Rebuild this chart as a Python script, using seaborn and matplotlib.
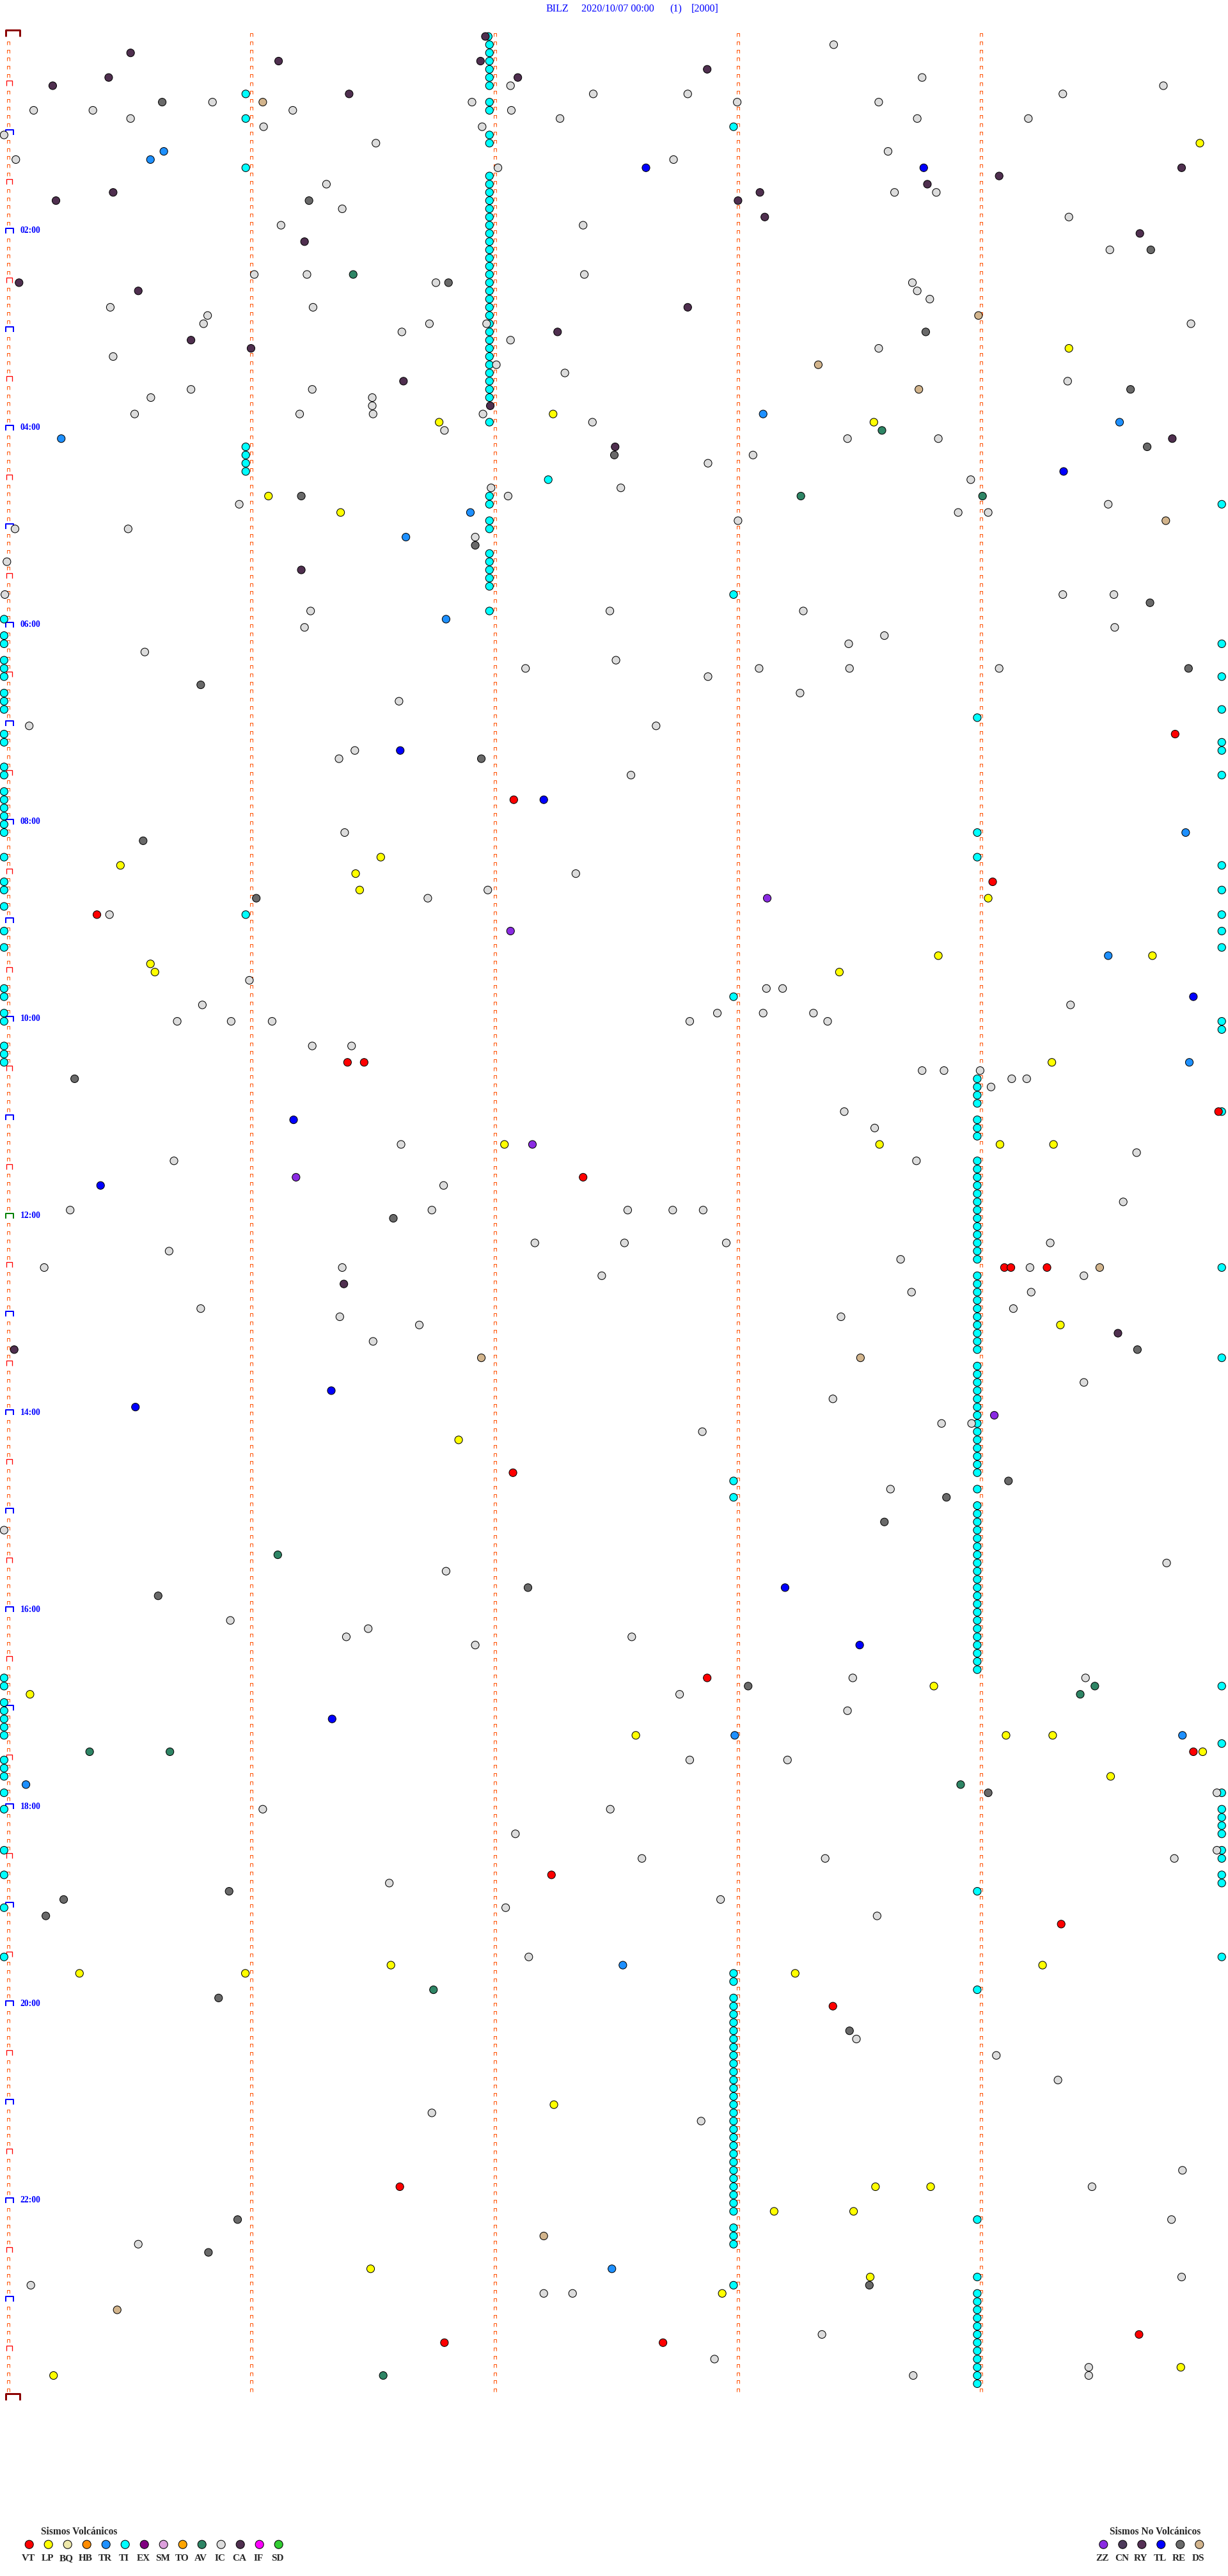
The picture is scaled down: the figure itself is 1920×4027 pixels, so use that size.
import matplotlib
matplotlib.use("Agg")
import matplotlib.pyplot as plt
from matplotlib.path import Path
import pandas as pd
import seaborn as sns

# one row = 5 minutes, 288 rows for the day; events are (row, seconds into row)
ti_row0 = [(0, 118.4), (54, 133.2)]
ti_col2_rows = [1, 2, 3, 4, 5, 6, 8, 9, 12, 13, 17, 18, 19, 20, 21, 22, 23, 24, 25, 26,
                27, 28, 29, 30, 31, 32, 33, 34, 35, 36, 37, 38, 39, 40, 41, 42, 43, 44,
                47, 56, 57, 59, 60, 63, 64, 65, 66, 67, 70]
ti_col1_rows = [7, 10, 16, 50, 51, 52, 53, 107]
ti_left_rows = [71, 73, 74, 76, 77, 78, 80, 81, 82, 85, 86, 89, 90, 92, 93, 94, 95, 96, 97,
                100, 103, 104, 106, 109, 111, 116, 117, 119, 120, 123, 124, 125, 200, 201,
                203, 204, 205, 206, 207, 210, 211, 212, 214, 216, 221, 224, 228, 234]
ti_right_rows = [57, 74, 78, 82, 86, 87, 90, 101, 104, 107, 109, 111, 120, 121, 131, 150,
                 161, 201, 208, 214, 216, 217, 218, 219, 221, 222, 224, 225, 234]
ti_col3_rows = [11, 68, 117, 176, 178, 236, 237, 239, 240, 241, 242, 243, 244, 245, 246,
                247, 248, 249, 250, 251, 252, 253, 254, 255, 256, 257, 258, 259, 260, 261,
                262, 263, 264, 265, 267, 268, 269, 274]
ti_col4_rows = [83, 97, 100, 127, 128, 129, 130, 132, 133, 134, 137, 138, 139, 140, 141,
                142, 143, 144, 145, 146, 147, 148, 149, 151, 152, 153, 154, 155, 156, 157,
                158, 159, 160, 162, 163, 164, 165, 166, 167, 168, 169, 170, 171, 172, 173,
                174, 175, 177, 179, 180, 181, 182, 183, 184, 185, 186, 187, 188, 189, 190,
                191, 192, 193, 194, 195, 196, 197, 198, 199, 226, 238, 266, 273, 275, 276,
                277, 278, 279, 280, 281, 282, 283, 284, 285, 286]
ti_stack_secs = [118.7, 58.6, -1.0, 299.3, 178.9, 239.0]

vt_events = [(85, 287.8), (93, 124.7), (103, 242.8), (107, 21.9), (125, 83.7), (125, 87.8),
             (131, 298.5), (139, 141.8), (150, 245.7), (150, 247.3), (150, 256.2),
             (175, 124.5), (200, 172.4), (209, 292.3), (224, 134.0), (230, 259.7),
             (240, 203.4), (262, 96.6), (280, 278.9), (281, 107.6), (281, 161.5)]

lp_events = [(13, 293.9), (38, 261.6), (46, 134.4), (47, 106.3), (47, 213.5), (56, 64.2),
             (58, 82.0), (100, 91.9), (101, 27.7), (102, 85.7), (104, 86.7), (105, 241.7),
             (112, 229.4), (112, 282.2), (113, 35.1), (114, 36.2), (114, 205.0),
             (125, 257.4), (135, 122.4), (135, 214.9), (135, 244.6), (135, 257.8),
             (157, 259.5), (171, 111.1), (201, 228.3), (202, 5.4), (207, 154.8),
             (207, 246.1), (207, 257.6), (209, 294.6), (212, 271.9), (235, 94.4),
             (235, 255.1), (236, 17.6), (236, 58.5), (236, 194.1), (252, 134.6),
             (262, 213.9), (262, 227.5), (265, 188.9), (265, 208.5), (272, 89.4),
             (273, 212.6), (275, 176.1), (284, 289.2), (285, 11.2)]

tr_events = [(14, 38.4), (15, 35.1), (46, 186.2), (47, 274.1), (49, 13.1), (58, 114.0),
             (61, 98.1), (71, 108.0), (97, 290.4), (112, 271.3), (125, 291.3), (207, 179.2),
             (207, 289.6), (213, 4.4), (235, 151.6), (272, 148.9)]

tl_events = [(16, 157.3), (16, 225.8), (53, 260.3), (87, 96.7), (93, 132.1), (117, 292.3),
             (132, 70.4), (140, 22.8), (165, 79.7), (167, 31.4), (189, 191.6), (196, 210.0),
             (205, 79.9)]

re_events = [(8, 38.0), (20, 74.2), (26, 281.8), (30, 108.6), (36, 226.3), (43, 276.8),
             (50, 280.9), (51, 149.5), (56, 72.3), (62, 115.2), (69, 281.6), (77, 291.1),
             (79, 47.5), (88, 116.7), (98, 33.3), (105, 61.2), (127, 16.4), (144, 95.0),
             (160, 278.5), (176, 246.7), (178, 231.4), (181, 216.1), (189, 128.2),
             (190, 37.0), (201, 182.5), (214, 241.7), (226, 54.5), (227, 13.7), (229, 9.3),
             (239, 51.9), (243, 207.5), (266, 56.6), (270, 49.4), (274, 212.4)]

ca_events = [(0, 117.7), (2, 30.2), (3, 66.7), (3, 116.5), (4, 172.4), (5, 24.8), (5, 125.7),
             (6, 11.0), (7, 84.1), (16, 289.4), (17, 244.4), (18, 226.7), (19, 25.9),
             (19, 185.4), (20, 11.8), (20, 180.0), (22, 186.6), (24, 279.1), (25, 73.1),
             (30, 2.7), (31, 32.1), (33, 167.6), (36, 135.5), (37, 45.1), (38, 59.9),
             (42, 97.5), (45, 118.9), (49, 287.1), (50, 149.7), (65, 72.3), (152, 82.8),
             (158, 273.7), (160, 1.5)]

av_events = [(29, 85.1), (48, 215.5), (56, 195.5), (56, 240.3), (185, 66.5), (201, 268.0),
             (202, 264.4), (209, 20.1), (209, 39.9), (213, 234.9), (238, 104.9), (285, 92.5)]

ds_events = [(8, 62.8), (34, 239.3), (40, 199.8), (43, 224.6), (59, 285.5), (150, 269.2),
             (161, 116.7), (161, 210.2), (268, 132.1), (277, 26.9)]

zz_events = [(105, 187.2), (109, 123.9), (135, 129.3), (139, 71.0), (168, 243.2)]

ic_events = [(1, 203.6), (5, 225.4), (6, 123.9), (6, 284.9), (7, 144.3), (7, 167.6), (7, 260.1),
             (8, 50.4), (8, 114.4), (8, 179.8), (8, 214.7), (9, 6.3), (9, 20.9), (9, 70.2),
             (9, 124.1), (10, 30.2), (10, 136.1), (10, 224.2), (10, 251.6), (11, 63.0),
             (11, 116.9), (12, -1.0), (13, 90.7), (14, 217.0), (15, 1.9), (15, 164.1),
             (16, 120.8), (18, 78.5), (19, 218.6), (19, 228.9), (21, 82.4), (22, 261.6),
             (23, 67.3), (23, 141.8), (26, 271.7), (29, 60.7), (29, 73.7), (29, 142.1),
             (30, 105.5), (30, 223.0), (31, 224.2), (32, 227.3), (33, 25.2), (33, 75.2),
             (34, 49.2), (35, 48.2), (35, 103.9), (35, 118.0), (35, 291.7), (36, 97.1),
             (37, 123.9), (38, 214.7), (39, 25.9), (40, 120.4), (41, 137.3), (42, 261.3),
             (43, 45.1), (43, 75.0), (44, 35.2), (44, 89.8), (45, 89.8), (46, 31.2),
             (46, 71.9), (46, 90.0), (46, 117.1), (47, 144.1), (48, 107.6), (49, 207.0),
             (49, 229.4), (51, 183.7), (52, 172.6), (54, 237.4), (55, 119.1), (55, 151.1),
             (56, 123.3), (57, 57.0), (57, 271.3), (58, 234.3), (58, 241.7), (59, 180.0),
             (60, 1.7), (60, 29.6), (61, 115.2), (64, -0.3), (68, -0.8), (68, 260.1),
             (68, 272.7), (70, 74.6), (70, 148.4), (70, 196.1), (72, 73.1), (72, 272.9),
             (73, 216.1), (74, 207.3), (75, 33.7), (76, 149.9), (77, 127.6), (77, 185.2),
             (77, 207.5), (77, 244.4), (78, 172.6), (80, 195.3), (81, 96.4), (84, 5.2),
             (84, 159.8), (87, 85.5), (88, 81.6), (90, 153.6), (97, 83.0), (102, 140.0),
             (104, 118.3), (105, 103.5), (107, 25.0), (115, 59.5), (116, 187.0),
             (116, 191.0), (118, 47.9), (118, 262.0), (119, 174.9), (119, 186.2),
             (119, 198.6), (120, 41.7), (120, 55.0), (120, 65.1), (120, 168.1), (120, 202.1),
             (123, 75.0), (123, 84.7), (126, 225.4), (126, 230.8), (126, 239.7), (127, 247.5),
             (127, 251.2), (128, 242.4), (131, 206.2), (133, 213.7), (135, 96.9), (136, 278.3),
             (137, 40.9), (137, 224.0), (140, 107.4), (142, 275.0), (143, 15.3), (143, 104.5),
             (143, 152.8), (143, 163.9), (143, 171.4), (147, 129.9), (147, 152.0),
             (147, 177.1), (147, 257.0), (148, 39.7), (149, 220.1), (150, 8.9), (150, 82.4),
             (150, 252.0), (151, 146.4), (151, 265.3), (153, 222.8), (153, 252.3), (155, 47.5),
             (155, 247.9), (156, 81.8), (156, 205.4), (157, 101.4), (159, 90.0), (164, 265.3),
             (166, 203.4), (169, 230.2), (169, 237.6), (170, 171.2), (177, 217.6),
             (182, -1.0), (186, 285.7), (187, 108.0), (193, 54.8), (194, 88.8), (195, 83.4),
             (195, 153.8), (196, 115.2), (200, 208.3), (200, 265.7), (202, 165.6),
             (204, 207.0), (210, 168.1), (210, 192.2), (214, 298.1), (216, 62.8),
             (216, 148.5), (219, 125.1), (221, 298.1), (222, 156.3), (222, 201.5),
             (222, 287.6), (225, 94.0), (227, 175.7), (228, 122.7), (229, 214.3),
             (234, 128.4), (244, 209.2), (246, 243.7), (249, 258.9), (253, 104.5),
             (254, 170.9), (260, 289.6), (262, 267.3), (266, 286.9), (269, 32.1),
             (273, 289.4), (274, 5.6), (275, 132.1), (275, 139.2), (280, 200.7),
             (283, 174.2), (284, 266.5), (285, 223.2), (285, 266.5)]

vol_types = ['VT', 'LP', 'BQ', 'HB', 'TR', 'TI', 'EX', 'SM', 'TO', 'AV', 'IC', 'CA', 'IF', 'SD']
vol_colors = ['#FF0000', '#FFFF00', '#EEE8AA', '#FF8C00', '#1E90FF', '#00FFFF', '#800080',
              '#DDA0DD', '#FFA500', '#2E8565', '#DCDCDC', '#4F2F4F', '#FF00FF', '#32CD32']
nov_types = ['ZZ', 'CN', 'RY', 'TL', 'RE', 'DS']
nov_colors = ['#8A2BE2', '#4D3A5A', '#553055', '#0000FF', '#696969', '#D2B48C']

hour_labels = ['02:00', '04:00', '06:00', '08:00', '10:00', '12:00',
               '14:00', '16:00', '18:00', '20:00', '22:00']

# ---- build the event table ----
ti_events = list(ti_row0)
for rows, sec in zip([ti_col2_rows, ti_col1_rows, ti_left_rows, ti_right_rows,
                      ti_col3_rows, ti_col4_rows], ti_stack_secs):
    ti_events += [(r, sec) for r in rows]

groups = [('TI', ti_events), ('IC', ic_events), ('CA', ca_events), ('RE', re_events),
          ('AV', av_events), ('DS', ds_events), ('TR', tr_events), ('TL', tl_events),
          ('LP', lp_events), ('VT', vt_events), ('ZZ', zz_events)]
recs = []
for name, evs in groups:
    for r, s in evs:
        recs.append({'type': name, 'row': r, 'sec': s})
df = pd.DataFrame(recs)

palette = dict(zip(vol_types + nov_types, vol_colors + nov_colors))

# ---- figure geometry (pixels) ----
W, H, DPI = 1920, 4027, 100
X0, PX_SEC = 12.7, 380.4 / 60
Y0, PX_ROW = 57.0, 12.83
PT = 72 / DPI

sns.set_style('white')
plt.rcParams['font.family'] = ['Liberation Serif', 'DejaVu Serif']

fig = plt.figure(figsize=(W / DPI, H / DPI), dpi=DPI)
ax = fig.add_axes([0, 0, 1, 1])


def cap(x_left, w, h):
    # open "⊓" shape, anchored at its bottom
    verts = [(x_left, 0), (x_left, h), (x_left + w, h), (x_left + w, 0)]
    p = Path(verts, [Path.MOVETO, Path.LINETO, Path.LINETO, Path.LINETO])
    size = 2 * max(abs(x_left), abs(x_left + w), h) * PT
    return p, size


def draw_caps(xs, ys, shape, color, lw):
    p, size = shape
    ax.plot(xs, ys, linestyle='none', marker=p, markersize=size, mfc='none',
            mec=color, mew=lw * PT, zorder=1)


small = cap(-2.5, 5, 5)
half = cap(-2.7, 8.7, 8)
hour = cap(-3.7, 11.5, 8)
day = cap(-3.7, 21.5, 10)

# dotted minute columns
for k in range(1, 5):
    rows = list(range(0, 288))
    draw_caps([60 * k] * len(rows), rows, small, '#FF5000', 1)

# left column with hour / half-hour marks
rows_small = [r for r in range(1, 288) if r % 6 != 0]
rows_half = [r for r in range(1, 288) if r % 6 == 0 and r % 12 != 0]
rows_hour = [r for r in range(12, 288, 12) if r != 144]
draw_caps([0] * len(rows_small), rows_small, small, '#FF5000', 1)
draw_caps([0] * len(rows_half), rows_half, half, '#FF0000', 1.3)
draw_caps([0] * len(rows_hour), rows_hour, hour, '#0000FF', 2)
draw_caps([0], [144], hour, '#008000', 2)
draw_caps([0, 0], [0, 288], day, '#8B0000', 3)

for lab in hour_labels:
    r = int(lab[:2]) * 12
    ax.text(3.0, r - 0.05, lab, color='#0000FF', fontsize=9.8, fontweight='bold',
            ha='left', va='baseline')

sns.scatterplot(data=df, x='sec', y='row', hue='type', palette=palette, s=76,
                edgecolor='black', linewidth=0.75, legend=False, ax=ax, zorder=3)

ax.set_xlim(-X0 / PX_SEC, (W - X0) / PX_SEC)
ax.set_ylim((H - Y0) / PX_ROW, -Y0 / PX_ROW)
ax.set_axis_off()

# ---- overlay in pixel coordinates: title and legends ----
ov = fig.add_axes([0, 0, 1, 1], facecolor='none')
ov.set_xlim(0, W)
ov.set_ylim(H, 0)
ov.set_axis_off()

for txt, xl in zip(['BILZ', '2020/10/07 00:00', '(1)', '[2000]'], [853, 909, 1047, 1081]):
    ov.text(xl, 18.3, txt, color='#0000FF', fontsize=11.6, ha='left', va='baseline')

ov.text(124, 3961.7, 'Sismos Volcánicos', fontsize=11.2, fontweight='bold',
        ha='center', va='baseline')
vx = [45.7 + 30 * i for i in range(len(vol_types))]
ov.scatter(vx, [3977.7] * len(vx), s=88, c=vol_colors, edgecolors='black', linewidths=0.75)
for x, t in zip(vx, vol_types):
    ov.text(x - 1.5, 4002.7, t, fontsize=11, fontweight='bold', ha='center', va='baseline')

ov.text(1806, 3961.7, 'Sismos No Volcánicos', fontsize=11.2, fontweight='bold',
        ha='center', va='baseline')
nx = [1725.3 + 30 * i for i in range(len(nov_types))]
ov.scatter(nx, [3977.7] * len(nx), s=88, c=nov_colors, edgecolors='black', linewidths=0.75)
for x, t in zip(nx, nov_types):
    ov.text(x - 1.5, 4002.7, t, fontsize=11, fontweight='bold', ha='center', va='baseline')

fig.savefig('out.png', dpi=DPI)
